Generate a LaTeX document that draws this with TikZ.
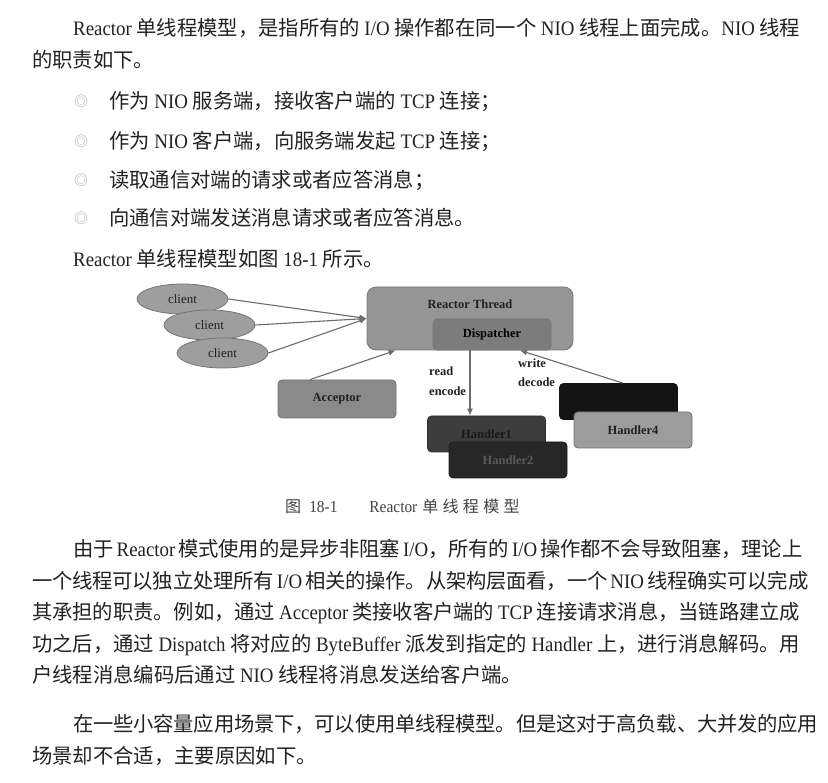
\documentclass[tikz,border=0pt]{standalone}
\usepackage{fontspec}
\setmainfont{Liberation Serif}
\newfontfamily\mylat{Liberation Serif}[FakeStretch=0.92, Scale=1.08]
\newfontfamily\myzh{Noto Sans CJK SC}[Scale=1.07]
\newfontfamily\diagfont{Liberation Serif}
\usetikzlibrary{shapes.geometric,arrows.meta}

\XeTeXinterchartokenstate=0
\newcount\zhcnt
\zhcnt="4E00
\loop
  \XeTeXcharclass\zhcnt=7
  \advance\zhcnt by 1
\ifnum\zhcnt<"A000
\repeat
\XeTeXcharclass"3001=7
\XeTeXcharclass"3002=7
\XeTeXcharclass"FF0C=7
\XeTeXcharclass"FF1B=7
\XeTeXcharclass"25CE=7
\XeTeXinterchartoks 0 7 = {\myzh}
\XeTeXinterchartoks 4095 7 = {\myzh}
\XeTeXinterchartoks 7 0 = {\mylat}
\XeTeXinterchartoks 4095 0 = {\mylat}
\XeTeXinterchartoks 7 7 = {\hskip 0pt plus 1pt minus 0.2pt}

\newcommand\bodyfnt{\XeTeXinterchartokenstate=1\relax\fontsize{19}{19}\selectfont\mylat}
\newcommand\capfnt{\fontsize{15}{15}\selectfont}
\newcommand\bulfnt{\myzh\fontsize{13}{13}\selectfont}
\newcommand\dgbold{\diagfont\bfseries\fontsize{12.5}{14}\selectfont}
\newcommand\dgreg{\diagfont\fontsize{13}{14}\selectfont}

\definecolor{txt}{HTML}{222222}
\definecolor{bulc}{HTML}{ABABAB}
\definecolor{ellfill}{HTML}{9E9E9E}
\definecolor{ellline}{HTML}{747474}
\definecolor{rtfill}{HTML}{959595}
\definecolor{rtline}{HTML}{787878}
\definecolor{dispfill}{HTML}{7C7C7C}
\definecolor{accfill}{HTML}{8A8A8A}
\definecolor{hone}{HTML}{3D3D3D}
\definecolor{htwo}{HTML}{272727}
\definecolor{hthree}{HTML}{141414}
\definecolor{hfour}{HTML}{9C9C9C}
\definecolor{arrowgray}{HTML}{6C6C6C}

\begin{document}
\begin{tikzpicture}[x=1pt,y=-1pt,
  body/.style={anchor=base west, inner sep=0pt, text=txt, font=\bodyfnt},
  bulnode/.style={inner sep=0pt, text=bulc, font=\bulfnt},
  capnode/.style={anchor=base west, inner sep=0pt, text=txt!85, font=\capfnt},
  client/.style={ellipse, minimum width=91pt, minimum height=30pt, inner sep=0pt,
    fill=ellfill, draw=ellline, line width=0.8pt, text=txt, font=\dgreg},
  box/.style={rectangle, rounded corners=4pt, minimum width=118pt, minimum height=36pt,
    inner sep=0pt, line width=0.8pt, font=\dgbold},
  lbl/.style={inner sep=0pt, text=txt, font=\dgbold},
  arr/.style={draw=arrowgray, line width=1.1pt, -{Latex[length=7pt,width=6pt]}}
]
\useasboundingbox (0,0) rectangle (828,783);
\fill[white] (0,0) rectangle (828,783);

% ---- top text ----
\node[body] (t1) at (73,35.7) {\makebox[727pt][s]{Reactor 单线程模型，是指所有的 I/O 操作都在同一个 NIO 线程上面完成。NIO 线程}};
\node[body] (t2) at (32,67.7) {的职责如下。};
\node[bulnode] (b1) at (81,101) {◎};
\node[body] (t3) at (109,108.7) {作为 NIO 服务端，接收客户端的 TCP 连接；};
\node[bulnode] (b2) at (81,141) {◎};
\node[body] (t4) at (109,148.7) {作为 NIO 客户端，向服务端发起 TCP 连接；};
\node[bulnode] (b3) at (81,180) {◎};
\node[body] (t5) at (109,187.7) {读取通信对端的请求或者应答消息；};
\node[bulnode] (b4) at (81,218) {◎};
\node[body] (t6) at (109,225.7) {向通信对端发送消息请求或者应答消息。};
\node[body] (t7) at (73,266.7) {Reactor 单线程模型如图 18-1 所示。};

% ---- diagram ----
\node[rectangle, rounded corners=9pt, minimum width=206pt, minimum height=63pt,
  fill=rtfill, draw=rtline, line width=0.8pt] (reactor) at (470,318.5) {};
\node[lbl] (rtl) at (470,304) {Reactor Thread};
\node[box, fill=dispfill, draw=rtline, minimum height=31pt] (disp) at (492,334.5) {Dispatcher};

\node[client] (c1) at (182.5,299) {client\hspace{18pt}};
\node[client] (c2) at (209.5,325) {client\hspace{18pt}};
\node[client] (c3) at (222.5,353) {client\hspace{16pt}};

\node[box, fill=accfill, draw=ellline, minimum height=38pt, text=txt] (acc) at (337,399) {Acceptor};

\node[box, fill=hone, draw=hone!80!black, text=black!90] (h1) at (486.5,434) {Handler1};
\node[box, fill=htwo, draw=htwo!80!black, text=black!65] (h2) at (508,460) {Handler2};
\node[box, fill=hthree, draw=hthree] (h3) at (618.5,401.5) {};
\node[box, fill=hfour, draw=ellline, text=txt] (h4) at (633,430) {Handler4};

\node[lbl, anchor=west] (rd) at (429,371.5) {read};
\node[lbl, anchor=west] (en) at (429,391) {encode};
\node[lbl, anchor=west] (wr) at (518,363.5) {write};
\node[lbl, anchor=west] (de) at (518,382) {decode};

\draw[arr] (c1.east) -- (reactor.west);
\draw[arr] (c2.east) -- (reactor.west);
\draw[arr] (c3.east) -- (reactor.west);
\draw[arr] ([xshift=-27pt]acc.north) -- ([xshift=29pt]reactor.south west);
\draw[arr] ([xshift=-22pt]disp.south) -- ([xshift=-22pt]disp.south |- h1.north);
\draw[arr] ([xshift=4.5pt]h3.north) -- ([xshift=28pt]disp.south);

% ---- caption ----
\node[capnode] (cap) at (285,513) {\myzh 图\hspace{8pt}\mylat\fontsize{15.5}{15.5}\selectfont 18-1\hspace{32pt}Reactor\hspace{5pt}\myzh\fontsize{15}{15}\selectfont 单\hspace{4.25pt}线\hspace{4.25pt}程\hspace{4.25pt}模\hspace{4.25pt}型};

% ---- lower text ----
\node[body] (p1) at (73,556.7) {\makebox[727pt][s]{由于 Reactor 模式使用的是异步非阻塞 I/O，所有的 I/O 操作都不会导致阻塞，理论上}};
\node[body] (p2) at (32,588.2) {\makebox[768pt][s]{一个线程可以独立处理所有 I/O 相关的操作。从架构层面看，一个 NIO 线程确实可以完成}};
\node[body] (p3) at (32,619.7) {\makebox[768pt][s]{其承担的职责。例如，通过 Acceptor 类接收客户端的 TCP 连接请求消息，当链路建立成}};
\node[body] (p4) at (32,651.2) {\makebox[768pt][s]{功之后，通过 Dispatch 将对应的 ByteBuffer 派发到指定的 Handler 上，进行消息解码。用}};
\node[body] (p5) at (32,682.7) {户线程消息编码后通过 NIO 线程将消息发送给客户端。};
\node[body] (q1) at (73,731.7) {\makebox[727pt][s]{在一些小容量应用场景下，可以使用单线程模型。但是这对于高负载、大并发的应用}};
\node[body] (q2) at (32,763.7) {场景却不合适，主要原因如下。};
\end{tikzpicture}
\end{document}
